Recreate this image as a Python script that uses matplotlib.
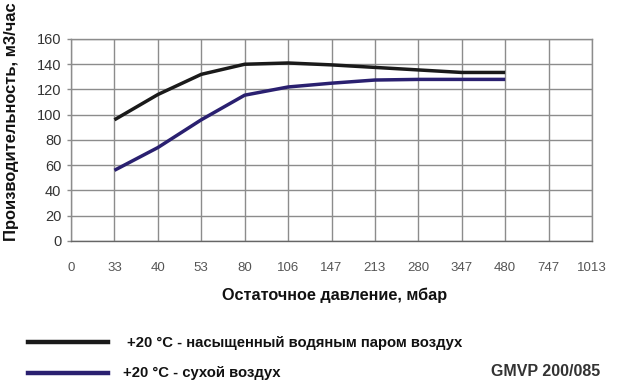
import matplotlib
matplotlib.use("Agg")
import matplotlib.pyplot as plt
from matplotlib.lines import Line2D

# residual pressure categories (mbar), evenly spaced on the axis
pressure_labels = ["0", "33", "40", "53", "80", "106", "147", "213", "280", "347", "480", "747", "1013"]

# capacity, m3/h (start at the "33" category)
wet_air = [96, 116, 132, 140, 141, 139.5, 137.5, 135.5, 133.5, 133.5]
dry_air = [56, 74, 96, 115.5, 122, 125, 127.5, 128, 128, 128]

yticks = [0, 20, 40, 60, 80, 100, 120, 140, 160]

wet_label = "+20 °C - насыщенный водяным паром воздух"
dry_label = "+20 °C - сухой воздух"
model = "GMVP 200/085"

plt.rcParams['font.family'] = ['Liberation Sans', 'DejaVu Sans']

fig = plt.figure(figsize=(6.2, 3.87), dpi=100)
ax = fig.add_axes([71 / 620, 1 - 241 / 387, (592 - 71) / 620, (241 - 39) / 387])

grid_c = '#8c8c8c'
wet_c = '#1a1a1a'
dry_c = '#2a2070'

x_all = list(range(len(pressure_labels)))
x_data = x_all[1:1 + len(wet_air)]

ax.plot(x_data, wet_air, color=wet_c, lw=2.5, solid_capstyle='butt', solid_joinstyle='round', zorder=3)
ax.plot(x_data, dry_air, color=dry_c, lw=2.5, solid_capstyle='butt', solid_joinstyle='round', zorder=3)

ax.set_xlim(0, len(pressure_labels) - 1)
ax.set_ylim(0, 160)
ax.set_xticks(x_all)
ax.set_xticklabels(pressure_labels, fontsize=9.5, color='#555555')
ax.set_yticks(yticks)
ax.set_yticklabels([str(v) for v in yticks], fontsize=10.5, color='#333333')
ax.tick_params(axis='x', length=0, pad=15)
ax.tick_params(axis='y', length=3, width=1, color=grid_c, pad=4)
ax.grid(True, color=grid_c, lw=1)
for s in ax.spines.values():
    s.set_color(grid_c)
    s.set_linewidth(1)
ax.spines['bottom'].set_color('#666666')

fig.text(0.019, 1 - 122 / 387, "Производительность, м3/час", rotation=90,
         ha='center', va='center', fontsize=11.9, fontweight='bold', color='#111111')
fig.text(335 / 620, 1 - 295 / 387, "Остаточное давление, мбар",
         ha='center', va='center', fontsize=11.7, fontweight='bold', color='#111111')

# legend drawn by hand below the chart
fig.add_artist(Line2D([28 / 620, 108 / 620], [1 - 342 / 387] * 2, color=wet_c, lw=3.2))
fig.add_artist(Line2D([28 / 620, 108 / 620], [1 - 373 / 387] * 2, color=dry_c, lw=3.2))
fig.text(127 / 620, 1 - 343 / 387, wet_label, ha='left', va='center',
         fontsize=10.7, fontweight='bold', color='#111111')
fig.text(123 / 620, 1 - 373 / 387, dry_label, ha='left', va='center',
         fontsize=10.7, fontweight='bold', color='#111111')
fig.text(600 / 620, 1 - 372 / 387, model, ha='right', va='center',
         fontsize=11.5, fontweight='bold', color='#333333')

fig.savefig("out.png", dpi=100)
